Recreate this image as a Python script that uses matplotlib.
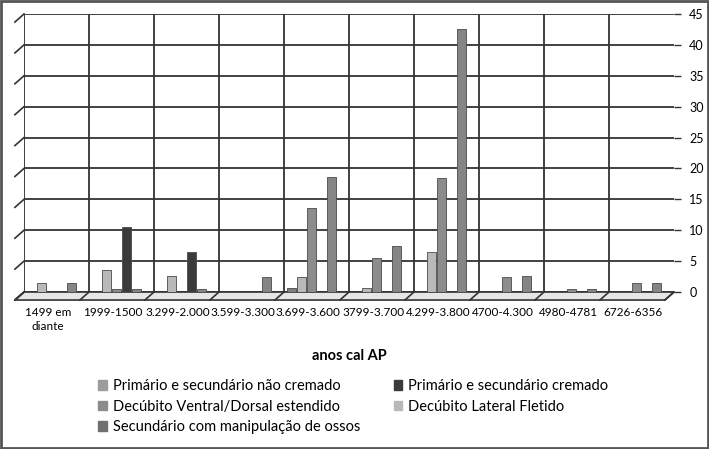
import numpy as np
import matplotlib
matplotlib.use('Agg')
import matplotlib.pyplot as plt
from matplotlib.patches import Rectangle, Polygon

plt.rcParams['font.family'] = ['Lato', 'DejaVu Sans']

# periods (anos cal AP)
categories = ["1499 em\ndiante", "1999-1500", "3.299-2.000", "3.599-3.300",
              "3.699-3.600", "3799-3.700", "4.299-3.800", "4700-4.300",
              "4980-4781", "6726-6356"]

# series values, as they show against the back wall
nao_cremado = [0, 0, 0, 0, 0.6, 0, 0, 0, 0, 0]
lateral_fletido = [1.5, 3.6, 2.6, 0, 2.4, 0.6, 6.5, 0, 0, 0]
ventral_dorsal = [0, 0.5, 0, 0, 13.6, 5.5, 18.4, 2.5, 0.5, 1.5]
cremado = [0, 10.5, 6.5, 0, 0, 0, 0, 0, 0, 0]
manipulacao = [1.4, 0.5, 0.5, 2.4, 18.6, 7.4, 42.6, 2.6, 0.5, 1.5]

labels = ["Primário e secundário não cremado",
          "Decúbito Lateral Fletido",
          "Decúbito Ventral/Dorsal estendido",
          "Primário e secundário cremado",
          "Secundário com manipulação de ossos"]
colors = ["#7e7e7e", "#b9b9b9", "#8c8c8c", "#3b3b3b", "#858585"]
legend_swatch = ["#9c9c9c", "#b9b9b9", "#8c8c8c", "#3b3b3b", "#707070"]

fig = plt.figure(figsize=(7.09, 4.49), dpi=100)
ax = fig.add_axes([24 / 709, 157 / 449, 650 / 709, 278 / 449])

x = np.arange(len(categories))
slot = 10 / 65
width = 0.14
series = [nao_cremado, lateral_fletido, ventral_dorsal, cremado, manipulacao]
for i, (vals, c) in enumerate(zip(series, colors)):
    ax.bar(x + (i - 2.5) * slot, vals, width, color=c,
           edgecolor="#4a4a4a", linewidth=0.6, zorder=3, label=labels[i])

ax.set_xlim(-0.5, 9.5)
ax.set_ylim(0, 45)
ax.set_yticks(np.arange(0, 46, 5))

# fake 3d depth: floor and slanted ticks
dx, dy = -0.14, -1.3
floor = Polygon([(-0.5, 0), (9.5, 0), (9.5 + dx, dy), (-0.5 + dx, dy)],
                closed=True, facecolor="#e6e6e6", edgecolor="#333333",
                lw=1.2, zorder=2, clip_on=False)
ax.add_patch(floor)
for yv in np.arange(0, 46, 5):
    ax.axhline(yv, color="#333333", lw=1.3, zorder=1)
    ax.plot([-0.5, -0.5 + dx], [yv, yv + dy], color="#333333", lw=1.2,
            clip_on=False, zorder=2)
for xv in np.arange(-0.5, 9.6, 1.0):
    if xv < 9:
        ax.axvline(xv, color="#333333", lw=1.3, zorder=1)
    ax.plot([xv, xv + dx], [0, dy], color="#333333", lw=1.2,
            clip_on=False, zorder=2)

for s in ax.spines.values():
    s.set_visible(False)
ax.yaxis.tick_right()
ax.tick_params(axis='y', length=5, width=1, color="#333333", labelsize=9, pad=6)
ax.set_xticks(x - 0.13)
ax.set_xticklabels(categories, fontsize=8.5, linespacing=1.3)
ax.tick_params(axis='x', length=0, pad=11)

ax.set_xlabel("anos cal AP", fontsize=10.5, fontweight='bold', labelpad=12)

# legend, read row by row like the original
order = [0, 2, 4, 3, 1]
handles = [Rectangle((0, 0), 1, 1, color=legend_swatch[k]) for k in order]
fig.legend(handles, [labels[k] for k in order], ncol=2, frameon=False,
           loc='upper left', bbox_to_anchor=(85 / 709, 1 - 366 / 449),
           fontsize=10.5, handlelength=0.6, handleheight=0.6,
           handletextpad=0.4, columnspacing=2.3, labelspacing=0.45)

fig.patches.append(Rectangle((0.002, 0.003), 0.996, 0.994, fill=False,
                             edgecolor="#555555", lw=2,
                             transform=fig.transFigure))

fig.savefig("out.png", dpi=100)
